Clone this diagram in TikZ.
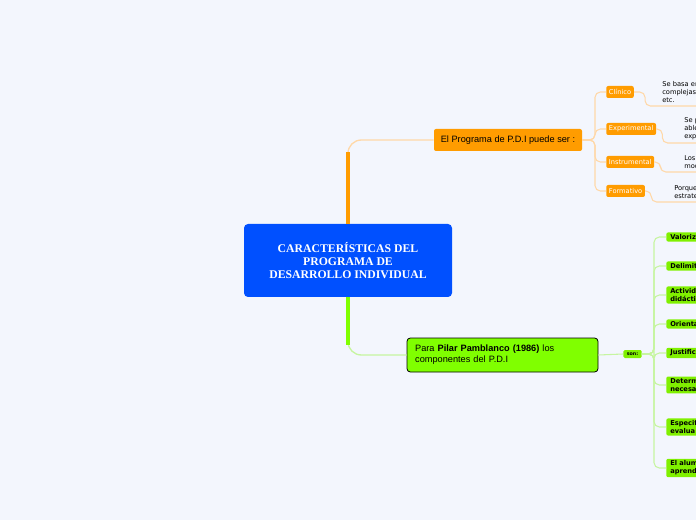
\documentclass[tikz,border=0pt]{standalone}
\usepackage{fontspec}
\setmainfont{Liberation Sans}
\newfontfamily\headfont{Liberation Serif}
\newfontfamily\tinyfont{DejaVu Sans}
\usetikzlibrary{positioning}
\definecolor{MMBack}{HTML}{F3F6FD}
\definecolor{MMBlue}{HTML}{0050FF}
\definecolor{MMOrange}{HTML}{FF9C00}
\definecolor{MMOrangeLine}{HTML}{FFD8A8}
\definecolor{MMGreen}{HTML}{80FF00}
\definecolor{MMGreenBox}{HTML}{80F000}
\definecolor{MMGreenLine}{HTML}{C6F5A0}

\begin{document}
\begin{tikzpicture}[x=0.75pt,y=-0.75pt,
  hubbox/.style={fill=MMBlue,rounded corners=3pt,minimum width=156pt,minimum height=54.75pt,
    text=white,align=center,font=\headfont\bfseries\fontsize{8.8}{9.8}\selectfont},
  progbox/.style={fill=MMOrange,rounded corners=1.5pt,minimum width=111pt,minimum height=16.5pt,
    inner sep=0pt,font=\fontsize{6.9}{8}\selectfont},
  pilarbox/.style={fill=MMGreen,draw=black,line width=.6pt,rounded corners=2.5pt,
    minimum width=143.25pt,minimum height=25.5pt,text width=131pt,inner xsep=6pt,
    align=left,font=\fontsize{6.9}{8.2}\selectfont},
  kindbox/.style={fill=MMOrange,rounded corners=1.5pt,anchor=west,inner xsep=2pt,inner ysep=0pt,
    minimum height=9pt,text=white,font=\tinyfont\fontsize{5}{6}\selectfont},
  partbox/.style={fill=MMGreenBox,rounded corners=1.5pt,anchor=west,inner xsep=3pt,inner ysep=1.5pt,
    text width=60pt,align=left,font=\tinyfont\bfseries\fontsize{5}{6}\selectfont},
  notetext/.style={anchor=south west,inner xsep=0pt,inner ysep=2pt,text width=45pt,align=left,
    font=\tinyfont\fontsize{5}{6}\selectfont},
  orangewire/.style={MMOrangeLine,line width=.8pt,rounded corners=4pt},
  greenwire/.style={MMGreenLine,line width=.8pt,rounded corners=4pt}]
\path[use as bounding box] (0,0) rectangle (696,520);
\fill[MMBack] (0,0) rectangle (696,520);
\clip (0,0) rectangle (696,520);

% centre
\node[hubbox] (hub) at (348,260.5) {CARACTERÍSTICAS DEL\\PROGRAMA DE\\DESARROLLO INDIVIDUAL};

% orange branch
\node[progbox] (prog) at (508,140) {El Programa de P.D.I puede ser :};
\draw[MMOrangeLine,line width=1pt,rounded corners=10pt] (hub.north) |- (prog.west);
\draw[MMOrange,line width=2.5pt] (hub.north) -- ++(0,-72);
\coordinate (otrunk) at (595,140);
\node[kindbox] (clin) at (606,92) {Clínico};
\node[kindbox] (expe) at (606,129) {Experimental};
\node[kindbox] (inst) at (606,162) {Instrumental};
\node[kindbox] (form) at (606,191) {Formativo};
\foreach \k in {clin,expe,inst,form}
  \draw[orangewire] (prog.east) -- (otrunk) |- (\k.west);
\node[notetext] (note1) at (662,106) {Se basa en\\complejas\\etc.};
\node[notetext] (note2) at (684,143) {Se p\\able\\exp};
\node[notetext] (note3) at (684,172) {Los\\mod};
\node[notetext] (note4) at (674,202) {Porque\\estrate};
\draw[orangewire] (clin.east) -- ++(11,0) |- (note1.south east);
\draw[orangewire] (expe.east) -- ++(6,0) |- (note2.south east);
\draw[orangewire] (inst.east) -- ++(6,0) |- (note3.south east);
\draw[orangewire] (form.east) -- ++(6,0) |- (note4.south east);

% green branch
\node[pilarbox] (pilar) at (502.5,355) {Para \textbf{Pilar Pamblanco (1986)} los\\componentes del P.D.I};
\draw[MMGreenLine,line width=1pt,rounded corners=10pt] (hub.south) |- (pilar.west);
\draw[MMGreen,line width=2.5pt] (hub.south) -- ++(0,48);
\node[fill=MMGreenBox,rounded corners=1pt,inner xsep=2.5pt,inner ysep=0pt,minimum height=6pt,
  font=\tinyfont\bfseries\fontsize{3.6}{4}\selectfont] (son) at (632.5,354) {son:};
\draw[greenwire] (pilar.east) -- (son.west);
\coordinate (gtrunk) at (654,354);
\node[partbox] (p1) at (666,237) {Valoriz};
\node[partbox] (p2) at (666,266) {Delimit};
\node[partbox] (p3) at (666,295) {Activid\\didácti};
\node[partbox] (p4) at (666,324) {Orienta};
\node[partbox] (p5) at (666,353) {Justific};
\node[partbox] (p6) at (666,385) {Determ\\necesa};
\node[partbox] (p7) at (666,427) {Especif\\evalua};
\node[partbox] (p8) at (666,468) {El alum\\aprend};
\foreach \p in {p1,p2,p3,p4,p5,p6,p7,p8}
  \draw[greenwire] (son.east) -- (gtrunk) |- (\p.west);
\end{tikzpicture}
\end{document}
